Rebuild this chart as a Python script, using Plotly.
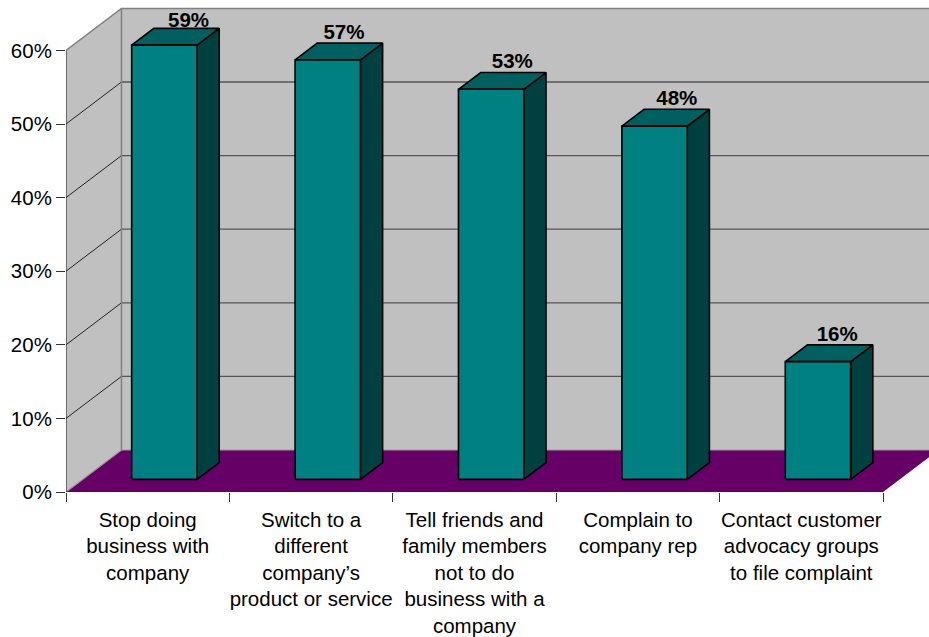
import plotly.graph_objects as go

# Survey responses, percent of respondents
categories = [
    "Stop doing<br>business with<br>company",
    "Switch to a<br>different<br>company’s<br>product or service",
    "Tell friends and<br>family members<br>not to do<br>business with a<br>company",
    "Complain to<br>company rep",
    "Contact customer<br>advocacy groups<br>to file complaint",
]
values = [59, 57, 53, 48, 16]
value_labels = ["59%", "57%", "53%", "48%", "16%"]
y_ticks = [0, 10, 20, 30, 40, 50, 60]
y_tick_labels = ["0%", "10%", "20%", "30%", "40%", "50%", "60%"]

# Scale of the plot area: pixels per category and per percentage point
CELL_PX = 163.5
PCT_PX = 7.36
LEFT, BOTTOM, WIDTH, HEIGHT = 65.5, 145, 929, 637

# Horizontal fine-tuning of each value label, in pixels
LABEL_NUDGE_PX = [2, -6, -1, 0, -3]


def px_x(p):
    return p / CELL_PX


def px_y(p):
    return p / PCT_PX


# Oblique projection used for the pseudo-3D box
DEPTH_X, DEPTH_Y = px_x(55.5), px_y(42)
BAR_WIDTH = 0.4
BAR_DEPTH = 0.4  # fraction of the full box depth
BAR_FRONT = 0.3


def ring(points):
    xs = [p[0] for p in points] + [points[0][0], None]
    ys = [p[1] for p in points] + [points[0][1], None]
    return xs, ys


def polygon(rings, fill, line_color=None, line_width=0):
    xs, ys = [], []
    for r in rings:
        a, b = ring(r)
        xs += a
        ys += b
    return go.Scatter(
        x=xs, y=ys, mode="lines", fill="toself", fillcolor=fill,
        line=dict(color=line_color or fill, width=line_width),
        hoverinfo="skip", showlegend=False,
    )


def path(xs, ys, color, width):
    return go.Scatter(
        x=xs, y=ys, mode="lines", line=dict(color=color, width=width),
        hoverinfo="skip", showlegend=False,
    )


n = len(categories)
x_max = (WIDTH - LEFT) / CELL_PX
y_max = (HEIGHT - BOTTOM) / PCT_PX
top = y_ticks[-1]

traces = []

# Walls and floor
traces.append(polygon([[(DEPTH_X, DEPTH_Y), (x_max + 1, DEPTH_Y),
                        (x_max + 1, top + DEPTH_Y), (DEPTH_X, top + DEPTH_Y)]], "#C0C0C0"))
traces.append(polygon([[(0, 0), (DEPTH_X, DEPTH_Y), (DEPTH_X, top + DEPTH_Y), (0, top)]], "#C0C0C0"))
traces.append(polygon([[(0, 0), (n, 0), (n + DEPTH_X, DEPTH_Y), (DEPTH_X, DEPTH_Y)]], "#660066"))

# Gridlines across the back wall and down the side wall
grid_x, grid_y, side_x, side_y = [], [], [], []
for t in y_ticks[1:-1]:
    grid_x += [DEPTH_X, x_max + 1, None]
    grid_y += [t + DEPTH_Y, t + DEPTH_Y, None]
    side_x += [0, DEPTH_X, None]
    side_y += [t, t + DEPTH_Y, None]
traces.append(path(grid_x, grid_y, "#555555", 1.3))
traces.append(path(side_x, side_y, "#222222", 1))

# Wall frame
traces.append(path([0, DEPTH_X, x_max + 1], [top, top + DEPTH_Y, top + DEPTH_Y], "#808080", 1.5))
traces.append(path([DEPTH_X, DEPTH_X], [top + DEPTH_Y, DEPTH_Y], "#808080", 1.5))
traces.append(path([0, DEPTH_X, x_max + 1], [0, DEPTH_Y, DEPTH_Y], "#999999", 1.2))

# Axis lines
traces.append(path([0, 0], [0, top], "#333333", 1.2))
traces.append(path([0, n], [0, 0], "#222222", 1.2))

# Bars: side and top faces, then the front
fronts, sides, tops = [], [], []
ox0, oy0 = DEPTH_X * BAR_FRONT, DEPTH_Y * BAR_FRONT
dx, dy = DEPTH_X * BAR_DEPTH, DEPTH_Y * BAR_DEPTH
for i, v in enumerate(values):
    x0 = i + (1 - BAR_WIDTH) / 2 + ox0
    x1 = x0 + BAR_WIDTH
    y0 = oy0
    y1 = v + oy0
    fronts.append([(x0, y0), (x1, y0), (x1, y1), (x0, y1)])
    sides.append([(x1, y0), (x1 + dx, y0 + dy), (x1 + dx, y1 + dy), (x1, y1)])
    tops.append([(x0, y1), (x1, y1), (x1 + dx, y1 + dy), (x0 + dx, y1 + dy)])
traces.append(polygon(sides, "#004040", "#000000", 1.6))
traces.append(polygon(tops, "#006060", "#000000", 1.6))
traces.append(polygon(fronts, "#008080", "#000000", 1.6))

# Value labels sit just above the back edge of each bar; the tallest is
# held closer to its bar so it stays inside the frame
label_x, label_y = [], []
for i, v in enumerate(values):
    gap = px_y(-4 if v == max(values) else -1)
    label_x.append(i + 0.5 + ox0 + dx + px_x(LABEL_NUDGE_PX[i]))
    label_y.append(v + oy0 + dy + gap)
traces.append(go.Scatter(
    x=label_x, y=label_y, mode="text", text=[f"<b>{t}</b>" for t in value_labels],
    textposition="top center", textfont=dict(family="Liberation Sans", size=20.5, color="#000000"),
    hoverinfo="skip", showlegend=False,
))

fig = go.Figure(traces)
fig.update_layout(
    width=WIDTH, height=HEIGHT,
    margin=dict(l=LEFT, r=0, t=0, b=BOTTOM, pad=0, autoexpand=False),
    paper_bgcolor="#FFFFFF", plot_bgcolor="#FFFFFF",
    font=dict(family="Liberation Sans", size=20.5, color="#000000"),
    showlegend=False,
)
fig.update_xaxes(
    range=[0, x_max], showgrid=False, zeroline=False, showline=False,
    tickmode="array", tickvals=[i + 0.5 for i in range(n)], ticktext=categories,
    ticks="", ticklabelstandoff=13, tickangle=0,
    minor=dict(tickmode="array", tickvals=list(range(n + 1)), ticks="outside",
               ticklen=9, tickwidth=1.2, tickcolor="#333333", showgrid=False),
)
fig.update_yaxes(
    range=[0, y_max], showgrid=False, zeroline=False, showline=False,
    tickmode="array", tickvals=y_ticks, ticktext=y_tick_labels,
    ticks="outside", ticklen=9, tickwidth=1.2, tickcolor="#333333",
)

fig.write_html("out.html", config=dict(displayModeBar=False))
